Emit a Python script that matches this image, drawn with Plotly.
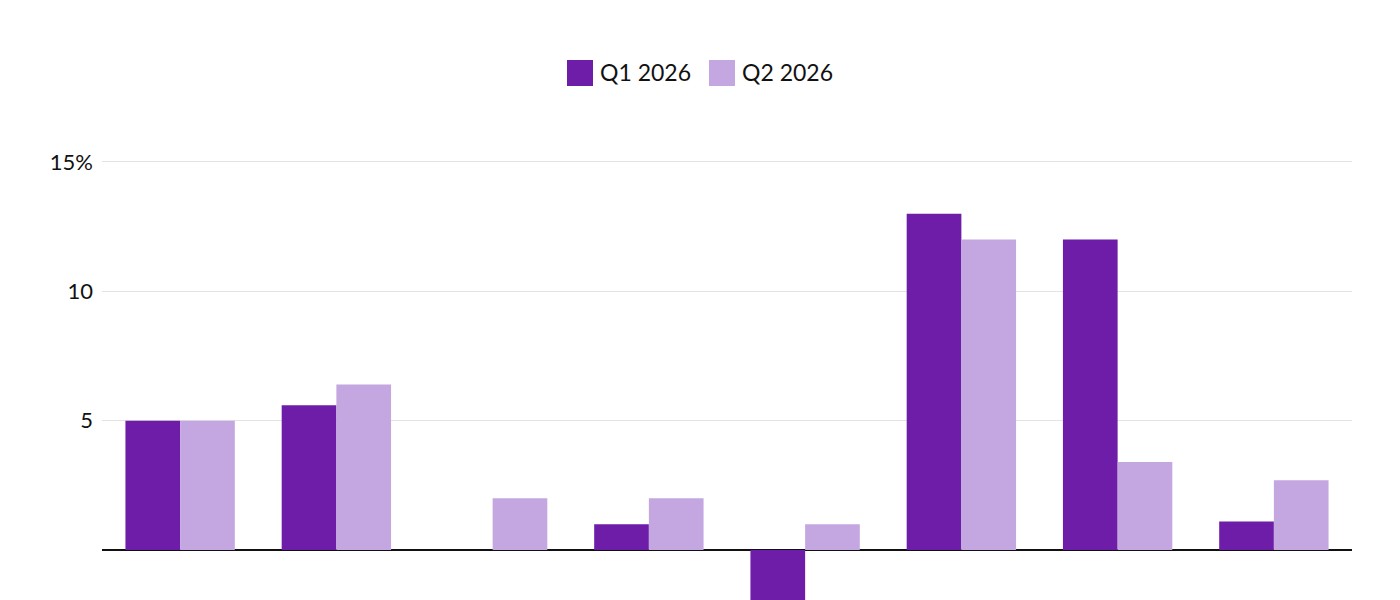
import plotly.graph_objects as go

# categories (axis labels are cropped out of the reference)
categories = ["Cat 1", "Cat 2", "Cat 3", "Cat 4", "Cat 5", "Cat 6", "Cat 7", "Cat 8"]
q1_2026 = [5.0, 5.6, 0.0, 1.0, -3.0, 13.0, 12.0, 1.1]
q2_2026 = [5.0, 6.4, 2.0, 2.0, 1.0, 12.0, 3.4, 2.7]
tick_vals = [5, 10, 15]
tick_text = ["5", "10", "15%"]

series_names = ["Q1 2026", "Q2 2026"]
colors = ["#6D1DA8", "#C4A6E0"]

fig = go.Figure()
for name, vals, col in zip(series_names, [q1_2026, q2_2026], colors):
    fig.add_trace(go.Bar(x=categories, y=vals, name=name, marker_color=col,
                         marker_line_width=0, showlegend=False))

# hand-made legend with big square swatches (plotly caps legend symbol size)
# plot area is 442px tall, from y=150 to y=592 in the figure
def py(fig_y):
    return (592 - fig_y) / 442

legend_x = [0.372, 0.4856]
for name, col, x0 in zip(series_names, colors, legend_x):
    fig.add_shape(type="rect", xref="paper", yref="paper",
                  x0=x0, x1=x0 + 0.0208, y0=py(78), y1=py(52),
                  fillcolor=col, line_width=0)
    fig.add_annotation(text=name, xref="paper", yref="paper",
                       x=x0 + 0.0248, y=py(64), xanchor="left", yanchor="middle",
                       showarrow=False, font=dict(size=23, color="#111111"))

fig.update_layout(
    width=1400, height=600,
    margin=dict(l=94, r=56, t=150, b=8),
    plot_bgcolor="white", paper_bgcolor="white",
    font=dict(family="Lato", size=22, color="#111111"),
    barmode="group", bargap=0.3, bargroupgap=0,
    showlegend=False,
)
fig.update_xaxes(showticklabels=False, showgrid=False, zeroline=False)
fig.update_yaxes(range=[-1.93, 15.15], tickvals=tick_vals, ticktext=tick_text,
                 showgrid=True, gridcolor="#e3e3e3", gridwidth=1,
                 zeroline=True, zerolinecolor="#111111", zerolinewidth=1.5,
                 ticks="", ticklabelstandoff=8)

fig.write_html("out.html")
